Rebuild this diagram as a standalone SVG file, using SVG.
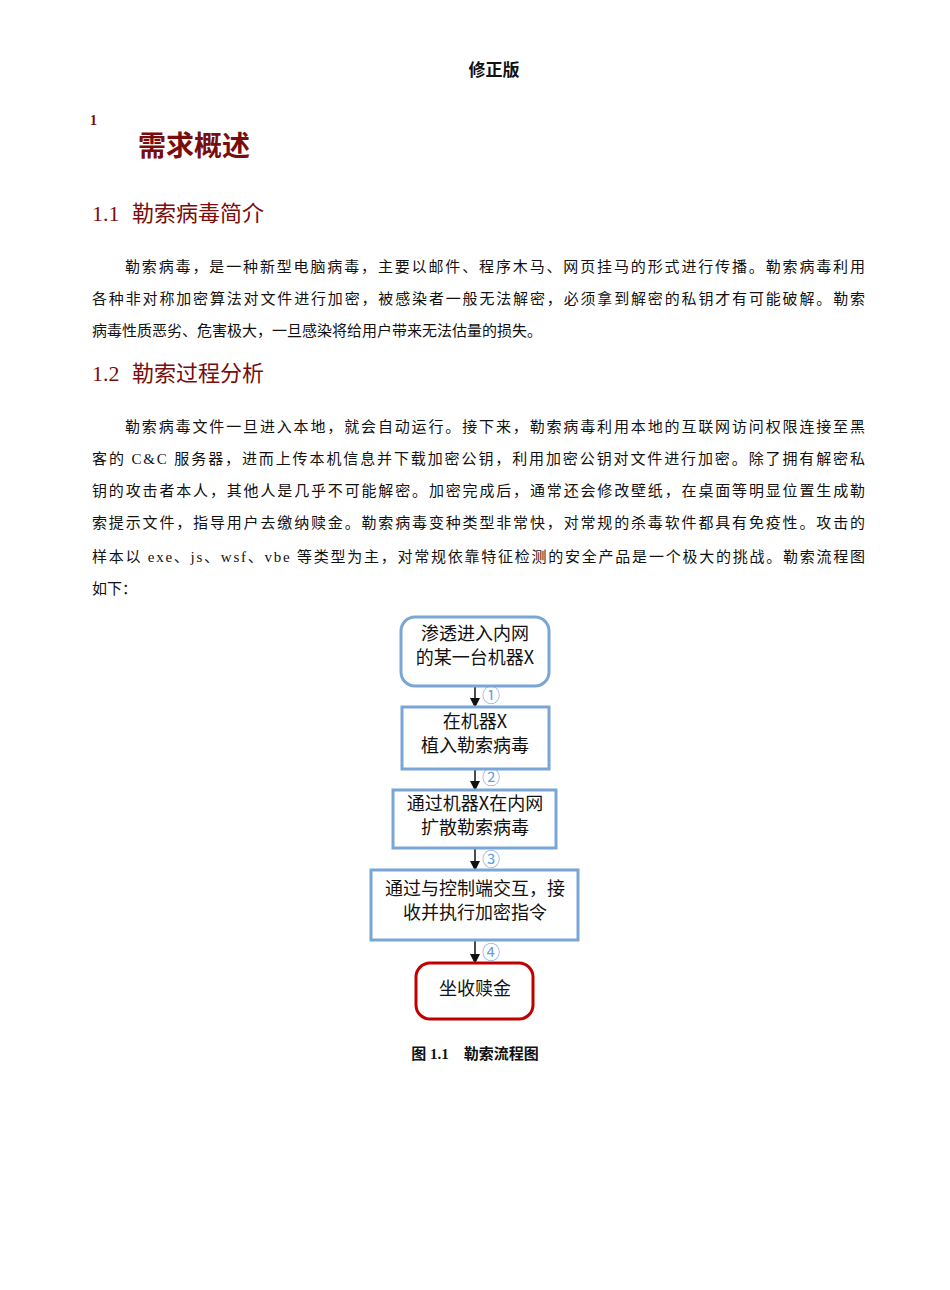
<svg xmlns="http://www.w3.org/2000/svg" width="950" height="1290" viewBox="0 0 950 1290">
<style>
.b{font-family:"Liberation Serif","Noto Sans CJK SC",serif;font-size:15px;fill:#111}
.h{font-family:"Liberation Serif","Noto Sans CJK SC",serif;font-size:22px;fill:#7a0c0c}
.n{font-family:"Noto Sans CJK SC",sans-serif;font-size:18px;fill:#111;text-anchor:middle}
.l{font-family:"Noto Sans CJK SC",sans-serif;font-size:18px;fill:#6aa0d8}
.bx{fill:#fff;stroke:#7aa6d6;stroke-width:3}
</style>
<defs><marker id="a" markerWidth="10" markerHeight="10" refX="9" refY="5" orient="auto" markerUnits="userSpaceOnUse"><path d="M0,0L10,5L0,10z" fill="#111"/></marker></defs>
<rect width="950" height="1290" fill="#fff"/>
<text x="494" y="76" text-anchor="middle" font-family="Noto Sans CJK SC,sans-serif" font-weight="bold" font-size="17" fill="#111">修正版</text>
<text x="90" y="125" font-family="Liberation Serif,serif" font-weight="bold" font-size="14" fill="#7a0c0c">1</text>
<text x="138" y="156" font-family="Noto Sans CJK SC,sans-serif" font-weight="bold" font-size="28" fill="#7a0c0c">需求概述</text>
<text x="92" y="221" class="h">1.1</text><text x="132" y="221" class="h">勒索病毒简介</text>
<text x="125" y="272" class="b" textLength="740" lengthAdjust="spacing">勒索病毒，是一种新型电脑病毒，主要以邮件、程序木马、网页挂马的形式进行传播。勒索病毒利用</text>
<text x="92" y="304" class="b" textLength="773" lengthAdjust="spacing">各种非对称加密算法对文件进行加密，被感染者一般无法解密，必须拿到解密的私钥才有可能破解。勒索</text>
<text x="92" y="336" class="b">病毒性质恶劣、危害极大，一旦感染将给用户带来无法估量的损失。</text>
<text x="92" y="381" class="h">1.2</text><text x="132" y="381" class="h">勒索过程分析</text>
<text x="125" y="432" class="b" textLength="740" lengthAdjust="spacing">勒索病毒文件一旦进入本地，就会自动运行。接下来，勒索病毒利用本地的互联网访问权限连接至黑</text>
<text x="92" y="464" class="b" textLength="773" lengthAdjust="spacing">客的 C&amp;C 服务器，进而上传本机信息并下载加密公钥，利用加密公钥对文件进行加密。除了拥有解密私</text>
<text x="92" y="496" class="b" textLength="773" lengthAdjust="spacing">钥的攻击者本人，其他人是几乎不可能解密。加密完成后，通常还会修改壁纸，在桌面等明显位置生成勒</text>
<text x="92" y="528" class="b" textLength="773" lengthAdjust="spacing">索提示文件，指导用户去缴纳赎金。勒索病毒变种类型非常快，对常规的杀毒软件都具有免疫性。攻击的</text>
<text x="92" y="562" class="b" textLength="773" lengthAdjust="spacing">样本以 exe、js、wsf、vbe 等类型为主，对常规依靠特征检测的安全产品是一个极大的挑战。勒索流程图</text>
<text x="92" y="594" class="b">如下：</text>
<g id="connectors" stroke="#111" stroke-width="1.5">
<line x1="475" y1="686" x2="475" y2="707" marker-end="url(#a)"/>
<line x1="475" y1="769" x2="475" y2="790" marker-end="url(#a)"/>
<line x1="475" y1="848" x2="475" y2="870" marker-end="url(#a)"/>
<line x1="475" y1="940" x2="475" y2="963" marker-end="url(#a)"/>
</g>
<g id="labels">
<text x="482" y="702" class="l">①</text>
<text x="482" y="784" class="l">②</text>
<text x="482" y="866" class="l">③</text>
<text x="482" y="959" class="l">④</text>
</g>
<g id="n1"><rect x="401" y="617" width="148" height="69" rx="14" class="bx"/><text x="475" y="640" class="n">渗透进入内网</text><text x="475" y="664" class="n">的某一台机器X</text></g>
<g id="n2"><rect x="402" y="707" width="147" height="62" class="bx"/><text x="475" y="728" class="n">在机器X</text><text x="475" y="752" class="n">植入勒索病毒</text></g>
<g id="n3"><rect x="393" y="790" width="163" height="58" class="bx"/><text x="475" y="810" class="n">通过机器X在内网</text><text x="475" y="834" class="n">扩散勒索病毒</text></g>
<g id="n4"><rect x="371" y="870" width="207" height="70" class="bx"/><text x="475" y="895" class="n">通过与控制端交互，接</text><text x="475" y="919" class="n">收并执行加密指令</text></g>
<g id="n5"><rect x="416" y="963" width="117" height="56" rx="14" fill="#fff" stroke="#c00000" stroke-width="3"/><text x="475" y="995" class="n">坐收赎金</text></g>
<text x="475" y="1059" text-anchor="middle" font-family="Liberation Serif,Noto Sans CJK SC,serif" font-weight="bold" font-size="15" fill="#111">图 1.1　勒索流程图</text>
</svg>
